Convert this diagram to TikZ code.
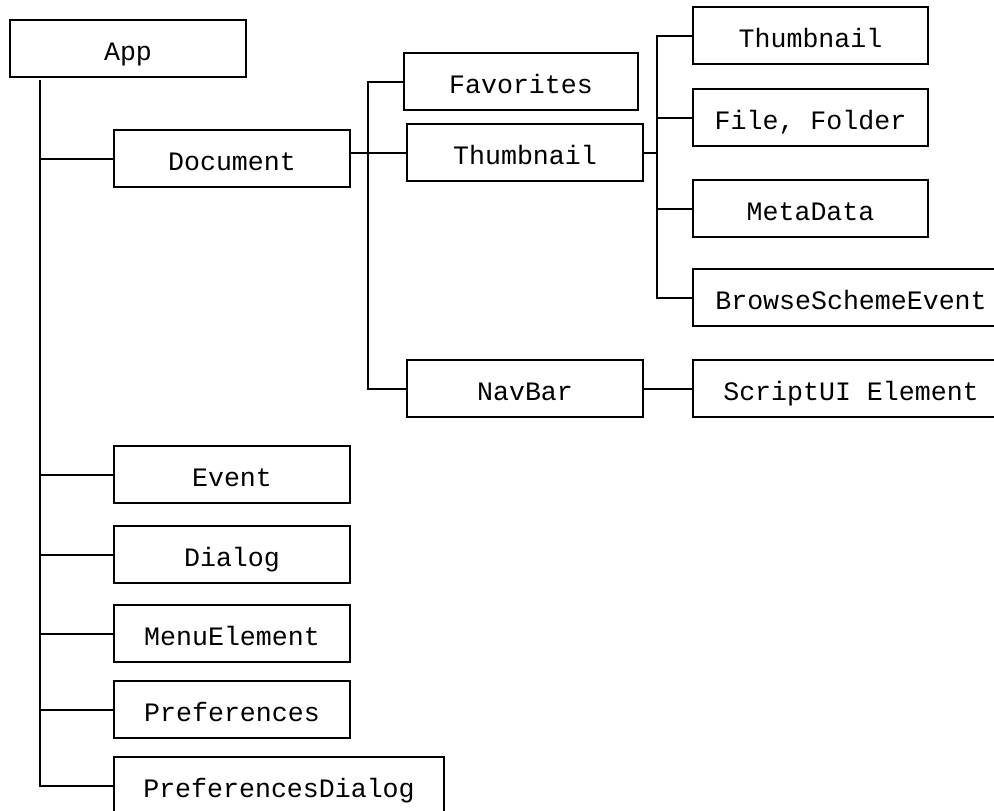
\documentclass[tikz,border=0pt]{standalone}
\usepackage{fontspec}
\setmonofont{Liberation Mono}
\usetikzlibrary{calc}

\tikzset{
  box/.style={draw, line width=1pt, anchor=north west, inner xsep=2pt, inner ysep=0pt,
    text height=20pt, text depth=8.5pt, minimum width=118pt,
    font=\ttfamily\fontsize{13.3}{16}\selectfont},
  link/.style={line width=1pt}
}

\begin{document}
\begin{tikzpicture}[x=0.5pt, y=-0.5pt]
      \useasboundingbox (0,0) rectangle (994,810);
      \node[box] (app) at (9,19) {App};
      \node[box] (doc) at (113,129) {Document};
      \node[box, minimum width=117pt] (fav) at (403,52) {Favorites};
      \node[box] (thumb) at (406,123) {Thumbnail};
      \node[box] (nav) at (406,359) {NavBar};
      \node[box, minimum width=117.5pt] (thumbB) at (692,6) {Thumbnail};
      \node[box, minimum width=117.5pt] (file) at (692,88) {File, Folder};
      \node[box, minimum width=117.5pt] (meta) at (692,179) {MetaData};
      \node[box, minimum width=158pt] (browse) at (692,268) {BrowseSchemeEvent};
      \node[box, minimum width=158pt] (script) at (692,359) {ScriptUI Element};
      \node[box] (event) at (113,445) {Event};
      \node[box] (dialog) at (113,525) {Dialog};
      \node[box] (menu) at (113,604) {MenuElement};
      \node[box] (pref) at (113,680) {Preferences};
      \node[box, minimum width=165pt] (prefdlg) at (113,756) {PreferencesDialog};

      \coordinate (trunk) at (40,0);
      \coordinate (docbus) at (368,0);
      \coordinate (thumbbus) at (657,0);

      \draw[link] ([yshift=-1pt]app.south -| trunk) |- (prefdlg.west);
      \foreach \n in {doc,event,dialog,menu,pref}
        \draw[link] (trunk |- \n.west) -- (\n.west);

      \draw[link] (thumb.west) -- (thumb.west -| doc.east);
      \draw[link] (fav.west) -| (docbus |- nav.west) -- (nav.west);
      \draw[link] (nav.east) -- (script.west);

      \draw[link] (thumb.east) -- (thumbbus |- thumb.east);
      \draw[link] (thumbB.west) -| (thumbbus |- browse.west) -- (browse.west);
      \foreach \n in {file,meta}
        \draw[link] (thumbbus |- \n.west) -- (\n.west);
\end{tikzpicture}
\end{document}
